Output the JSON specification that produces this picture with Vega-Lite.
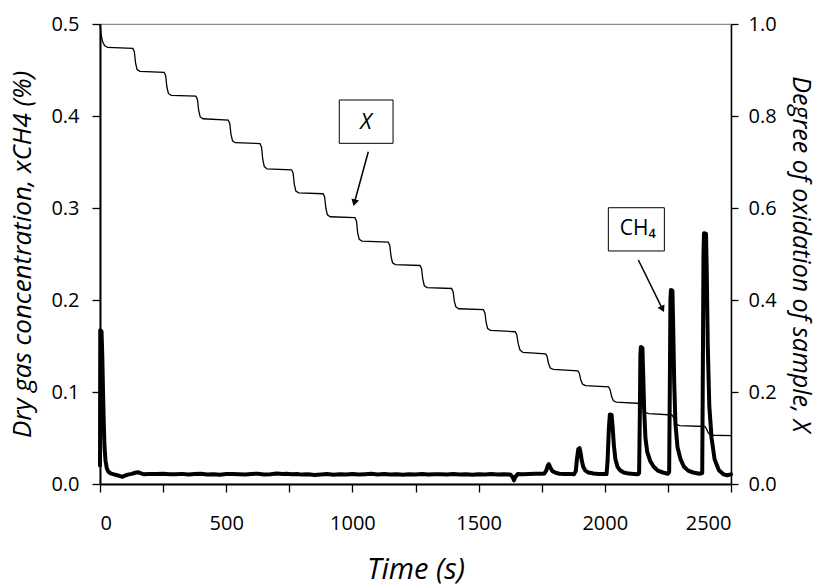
{
  "$schema": "https://vega.github.io/schema/vega-lite/v6.json",
  "width": 631,
  "height": 460,
  "autosize": {"type": "none"},
  "padding": {"left": 100, "top": 24, "right": 90, "bottom": 101},
  "background": "white",
  "config": {
    "font": "Open Sans",
    "view": {"stroke": "#8c8c8c", "strokeWidth": 1.2},
    "axis": {
      "grid": false,
      "domainColor": "black",
      "tickColor": "black",
      "labelColor": "black",
      "titleColor": "black",
      "labelFont": "Open Sans",
      "titleFont": "Open Sans",
      "labelFontSize": 20,
      "titleFontWeight": "normal",
      "titleFontStyle": "italic",
      "tickSize": 8,
      "tickWidth": 1.3
    }
  },
  "layer": [
    {
      "layer": [
        {
          "data": {"values": [
            {"t": 0, "c": 0.02}, {"t": 1, "c": 0.167}, {"t": 6, "c": 0.166}, {"t": 9, "c": 0.14}, {"t": 12, "c": 0.1}, {"t": 15, "c": 0.065}, {"t": 18, "c": 0.04}, {"t": 22, "c": 0.025}, {"t": 27, "c": 0.017}, {"t": 33, "c": 0.0135}, {"t": 42, "c": 0.0115}, {"t": 55, "c": 0.0105}, {"t": 68, "c": 0.0095}, {"t": 80, "c": 0.0085}, {"t": 88, "c": 0.0078}, {"t": 96, "c": 0.0088}, {"t": 110, "c": 0.0102}, {"t": 125, "c": 0.011}, {"t": 140, "c": 0.0122}, {"t": 150, "c": 0.0128}, {"t": 160, "c": 0.0118}, {"t": 175, "c": 0.0105},
            {"t": 200, "c": 0.011}, {"t": 225, "c": 0.0108}, {"t": 250, "c": 0.0112}, {"t": 275, "c": 0.0107}, {"t": 300, "c": 0.0105}, {"t": 325, "c": 0.011}, {"t": 350, "c": 0.0103}, {"t": 375, "c": 0.0108}, {"t": 400, "c": 0.0112}, {"t": 425, "c": 0.0104}, {"t": 450, "c": 0.0106}, {"t": 475, "c": 0.0101}, {"t": 500, "c": 0.0108}, {"t": 525, "c": 0.011}, {"t": 550, "c": 0.0106}, {"t": 575, "c": 0.0103}, {"t": 600, "c": 0.0109}, {"t": 625, "c": 0.0112}, {"t": 650, "c": 0.0104}, {"t": 675, "c": 0.0107}, {"t": 700, "c": 0.0115}, {"t": 725, "c": 0.0108}, {"t": 740, "c": 0.0112}, {"t": 760, "c": 0.0105}, {"t": 780, "c": 0.0109}, {"t": 800, "c": 0.0102}, {"t": 825, "c": 0.0106}, {"t": 850, "c": 0.0099}, {"t": 875, "c": 0.0104}, {"t": 900, "c": 0.0108}, {"t": 925, "c": 0.0101}, {"t": 950, "c": 0.0105}, {"t": 975, "c": 0.0103}, {"t": 1000, "c": 0.0108}, {"t": 1025, "c": 0.0102}, {"t": 1050, "c": 0.0106}, {"t": 1075, "c": 0.0111}, {"t": 1100, "c": 0.0104}, {"t": 1125, "c": 0.0108}, {"t": 1150, "c": 0.0103}, {"t": 1175, "c": 0.0107}, {"t": 1200, "c": 0.0101}, {"t": 1225, "c": 0.0106}, {"t": 1250, "c": 0.0104}, {"t": 1275, "c": 0.0109}, {"t": 1300, "c": 0.0103}, {"t": 1325, "c": 0.0107}, {"t": 1350, "c": 0.0105}, {"t": 1375, "c": 0.0102}, {"t": 1400, "c": 0.0108}, {"t": 1425, "c": 0.0104}, {"t": 1450, "c": 0.0107}, {"t": 1475, "c": 0.0101}, {"t": 1500, "c": 0.0106}, {"t": 1525, "c": 0.0103}, {"t": 1550, "c": 0.0108}, {"t": 1575, "c": 0.0102}, {"t": 1600, "c": 0.0105}, {"t": 1625, "c": 0.0104}, {"t": 1635, "c": 0.0075}, {"t": 1640, "c": 0.004}, {"t": 1645, "c": 0.0075}, {"t": 1655, "c": 0.0108}, {"t": 1675, "c": 0.0106}, {"t": 1700, "c": 0.0109}, {"t": 1725, "c": 0.0111}, {"t": 1750, "c": 0.0112},
            {"t": 1760, "c": 0.0113}, {"t": 1768, "c": 0.0145}, {"t": 1774, "c": 0.02}, {"t": 1778, "c": 0.0215}, {"t": 1784, "c": 0.018}, {"t": 1792, "c": 0.0142}, {"t": 1805, "c": 0.0122}, {"t": 1820, "c": 0.0112}, {"t": 1840, "c": 0.0108}, {"t": 1860, "c": 0.011}, {"t": 1878, "c": 0.0106},
            {"t": 1885, "c": 0.014}, {"t": 1890, "c": 0.028}, {"t": 1895, "c": 0.038}, {"t": 1900, "c": 0.039}, {"t": 1904, "c": 0.034}, {"t": 1909, "c": 0.025}, {"t": 1915, "c": 0.0185}, {"t": 1923, "c": 0.0145}, {"t": 1935, "c": 0.0125}, {"t": 1955, "c": 0.0114}, {"t": 1975, "c": 0.0109}, {"t": 1995, "c": 0.011}, {"t": 2007, "c": 0.0108},
            {"t": 2011, "c": 0.025}, {"t": 2016, "c": 0.06}, {"t": 2020, "c": 0.0755}, {"t": 2027, "c": 0.075}, {"t": 2031, "c": 0.062}, {"t": 2036, "c": 0.042}, {"t": 2042, "c": 0.027}, {"t": 2050, "c": 0.019}, {"t": 2060, "c": 0.015}, {"t": 2075, "c": 0.0125}, {"t": 2095, "c": 0.0113}, {"t": 2115, "c": 0.011}, {"t": 2132, "c": 0.0107},
            {"t": 2136, "c": 0.012}, {"t": 2139, "c": 0.08}, {"t": 2141, "c": 0.14}, {"t": 2143, "c": 0.149}, {"t": 2149, "c": 0.148}, {"t": 2152, "c": 0.12}, {"t": 2156, "c": 0.08}, {"t": 2161, "c": 0.05}, {"t": 2168, "c": 0.035}, {"t": 2180, "c": 0.025}, {"t": 2193, "c": 0.019}, {"t": 2210, "c": 0.0145}, {"t": 2230, "c": 0.0125}, {"t": 2250, "c": 0.0112},
            {"t": 2255, "c": 0.013}, {"t": 2258, "c": 0.12}, {"t": 2260, "c": 0.2}, {"t": 2262, "c": 0.211}, {"t": 2268, "c": 0.21}, {"t": 2271, "c": 0.17}, {"t": 2275, "c": 0.11}, {"t": 2280, "c": 0.065}, {"t": 2288, "c": 0.04}, {"t": 2300, "c": 0.027}, {"t": 2313, "c": 0.019}, {"t": 2330, "c": 0.0145}, {"t": 2350, "c": 0.0125}, {"t": 2375, "c": 0.0112},
            {"t": 2386, "c": 0.012}, {"t": 2389, "c": 0.15}, {"t": 2391, "c": 0.25}, {"t": 2393, "c": 0.2725}, {"t": 2401, "c": 0.272}, {"t": 2404, "c": 0.23}, {"t": 2408, "c": 0.15}, {"t": 2414, "c": 0.085}, {"t": 2423, "c": 0.05}, {"t": 2435, "c": 0.027}, {"t": 2452, "c": 0.015}, {"t": 2470, "c": 0.0105}, {"t": 2485, "c": 0.0095}, {"t": 2500, "c": 0.0105}
          ]},
          "mark": {"type": "line", "color": "black", "strokeWidth": 4, "strokeJoin": "round", "strokeCap": "round"},
          "encoding": {
            "x": {"field": "t", "type": "quantitative", "scale": {"domain": [0, 2500], "nice": false},
              "axis": {"values": [0, 250, 500, 750, 1000, 1250, 1500, 1750, 2000, 2250, 2500], "format": "d", "labelExpr": "datum.value % 500 === 0 ? datum.label : ''", "title": "Time (s)", "titleFontSize": 29, "labelPadding": 21, "titlePadding": 22, "domainWidth": 2}},
            "y": {"field": "c", "type": "quantitative", "scale": {"domain": [0, 0.5], "nice": false},
              "axis": {"values": [0, 0.1, 0.2, 0.3, 0.4, 0.5], "format": ".1f", "title": "Dry gas concentration, xCH4 (%)", "titleFontSize": 26, "labelPadding": 13, "titlePadding": 15, "domainWidth": 2}}
          }
        },
        {
          "data": {"values": [
            {"t": 948, "t2": 1161, "c": 0.3703, "c2": 0.4174},
            {"t": 2014, "t2": 2236, "c": 0.2533, "c2": 0.3003}
          ]},
          "mark": {"type": "rect", "fill": "white", "stroke": "black", "strokeWidth": 1},
          "encoding": {
            "x": {"field": "t", "type": "quantitative", "scale": {"domain": [0, 2500], "nice": false},
              "axis": {"values": [0, 250, 500, 750, 1000, 1250, 1500, 1750, 2000, 2250, 2500], "format": "d", "labelExpr": "datum.value % 500 === 0 ? datum.label : ''", "title": "Time (s)", "titleFontSize": 29, "labelPadding": 21, "titlePadding": 22, "domainWidth": 2}},
            "x2": {"field": "t2"},
            "y": {"field": "c", "type": "quantitative", "scale": {"domain": [0, 0.5], "nice": false},
              "axis": {"values": [0, 0.1, 0.2, 0.3, 0.4, 0.5], "format": ".1f", "title": "Dry gas concentration, xCH4 (%)", "titleFontSize": 26, "labelPadding": 13, "titlePadding": 15, "domainWidth": 2}},
            "y2": {"field": "c2"}
          }
        },
        {
          "data": {"values": [
            {"t": 1063, "c": 0.3612, "t2": 1007.8, "c2": 0.3057},
            {"t": 2133, "c": 0.2435, "t2": 2228.6, "c2": 0.1901}
          ]},
          "mark": {"type": "rule", "color": "black", "strokeWidth": 1.5},
          "encoding": {
            "x": {"field": "t", "type": "quantitative", "scale": {"domain": [0, 2500], "nice": false},
              "axis": {"values": [0, 250, 500, 750, 1000, 1250, 1500, 1750, 2000, 2250, 2500], "format": "d", "labelExpr": "datum.value % 500 === 0 ? datum.label : ''", "title": "Time (s)", "titleFontSize": 29, "labelPadding": 21, "titlePadding": 22, "domainWidth": 2}},
            "x2": {"field": "t2"},
            "y": {"field": "c", "type": "quantitative", "scale": {"domain": [0, 0.5], "nice": false},
              "axis": {"values": [0, 0.1, 0.2, 0.3, 0.4, 0.5], "format": ".1f", "title": "Dry gas concentration, xCH4 (%)", "titleFontSize": 26, "labelPadding": 13, "titlePadding": 15, "domainWidth": 2}},
            "y2": {"field": "c2"}
          }
        },
        {
          "data": {"values": [{"t": 1007.8, "c": 0.3057}]},
          "mark": {"type": "point", "shape": "triangle-up", "filled": true, "color": "black", "opacity": 1, "size": 60, "angle": 195},
          "encoding": {
            "x": {"field": "t", "type": "quantitative", "scale": {"domain": [0, 2500], "nice": false},
              "axis": {"values": [0, 250, 500, 750, 1000, 1250, 1500, 1750, 2000, 2250, 2500], "format": "d", "labelExpr": "datum.value % 500 === 0 ? datum.label : ''", "title": "Time (s)", "titleFontSize": 29, "labelPadding": 21, "titlePadding": 22, "domainWidth": 2}},
            "y": {"field": "c", "type": "quantitative", "scale": {"domain": [0, 0.5], "nice": false},
              "axis": {"values": [0, 0.1, 0.2, 0.3, 0.4, 0.5], "format": ".1f", "title": "Dry gas concentration, xCH4 (%)", "titleFontSize": 26, "labelPadding": 13, "titlePadding": 15, "domainWidth": 2}}
          }
        },
        {
          "data": {"values": [{"t": 2228.6, "c": 0.1901}]},
          "mark": {"type": "point", "shape": "triangle-up", "filled": true, "color": "black", "opacity": 1, "size": 60, "angle": 154},
          "encoding": {
            "x": {"field": "t", "type": "quantitative", "scale": {"domain": [0, 2500], "nice": false},
              "axis": {"values": [0, 250, 500, 750, 1000, 1250, 1500, 1750, 2000, 2250, 2500], "format": "d", "labelExpr": "datum.value % 500 === 0 ? datum.label : ''", "title": "Time (s)", "titleFontSize": 29, "labelPadding": 21, "titlePadding": 22, "domainWidth": 2}},
            "y": {"field": "c", "type": "quantitative", "scale": {"domain": [0, 0.5], "nice": false},
              "axis": {"values": [0, 0.1, 0.2, 0.3, 0.4, 0.5], "format": ".1f", "title": "Dry gas concentration, xCH4 (%)", "titleFontSize": 26, "labelPadding": 13, "titlePadding": 15, "domainWidth": 2}}
          }
        },
        {
          "data": {"values": [{"t": 1054, "c": 0.3938, "label": "X"}]},
          "mark": {"type": "text", "font": "Open Sans", "fontStyle": "italic", "fontSize": 22, "color": "black", "align": "center", "baseline": "middle"},
          "encoding": {
            "x": {"field": "t", "type": "quantitative", "scale": {"domain": [0, 2500], "nice": false},
              "axis": {"values": [0, 250, 500, 750, 1000, 1250, 1500, 1750, 2000, 2250, 2500], "format": "d", "labelExpr": "datum.value % 500 === 0 ? datum.label : ''", "title": "Time (s)", "titleFontSize": 29, "labelPadding": 21, "titlePadding": 22, "domainWidth": 2}},
            "y": {"field": "c", "type": "quantitative", "scale": {"domain": [0, 0.5], "nice": false},
              "axis": {"values": [0, 0.1, 0.2, 0.3, 0.4, 0.5], "format": ".1f", "title": "Dry gas concentration, xCH4 (%)", "titleFontSize": 26, "labelPadding": 13, "titlePadding": 15, "domainWidth": 2}},
            "text": {"field": "label"}
          }
        },
        {
          "data": {"values": [{"t": 2131, "c": 0.2768, "label": "CH₄"}]},
          "mark": {"type": "text", "font": "Open Sans", "fontSize": 21, "color": "black", "align": "center", "baseline": "middle"},
          "encoding": {
            "x": {"field": "t", "type": "quantitative", "scale": {"domain": [0, 2500], "nice": false},
              "axis": {"values": [0, 250, 500, 750, 1000, 1250, 1500, 1750, 2000, 2250, 2500], "format": "d", "labelExpr": "datum.value % 500 === 0 ? datum.label : ''", "title": "Time (s)", "titleFontSize": 29, "labelPadding": 21, "titlePadding": 22, "domainWidth": 2}},
            "y": {"field": "c", "type": "quantitative", "scale": {"domain": [0, 0.5], "nice": false},
              "axis": {"values": [0, 0.1, 0.2, 0.3, 0.4, 0.5], "format": ".1f", "title": "Dry gas concentration, xCH4 (%)", "titleFontSize": 26, "labelPadding": 13, "titlePadding": 15, "domainWidth": 2}},
            "text": {"field": "label"}
          }
        }
      ]
    },
    {
      "data": {"values": [
        {"t": 0, "X": 1.0}, {"t": 2, "X": 0.99}, {"t": 5, "X": 0.975}, {"t": 10, "X": 0.962}, {"t": 18, "X": 0.953}, {"t": 30, "X": 0.949}, {"t": 130, "X": 0.947},
        {"t": 136, "X": 0.94}, {"t": 141, "X": 0.915}, {"t": 147, "X": 0.901}, {"t": 158, "X": 0.897}, {"t": 254, "X": 0.895},
        {"t": 260, "X": 0.888}, {"t": 265, "X": 0.863}, {"t": 271, "X": 0.849}, {"t": 282, "X": 0.845}, {"t": 380, "X": 0.843},
        {"t": 386, "X": 0.836}, {"t": 391, "X": 0.812}, {"t": 397, "X": 0.798}, {"t": 408, "X": 0.794}, {"t": 508, "X": 0.791},
        {"t": 514, "X": 0.784}, {"t": 519, "X": 0.76}, {"t": 525, "X": 0.746}, {"t": 536, "X": 0.742}, {"t": 634, "X": 0.74},
        {"t": 640, "X": 0.732}, {"t": 645, "X": 0.705}, {"t": 651, "X": 0.69}, {"t": 662, "X": 0.685}, {"t": 759, "X": 0.683},
        {"t": 765, "X": 0.676}, {"t": 770, "X": 0.651}, {"t": 776, "X": 0.637}, {"t": 787, "X": 0.633}, {"t": 884, "X": 0.631},
        {"t": 890, "X": 0.624}, {"t": 895, "X": 0.599}, {"t": 901, "X": 0.585}, {"t": 912, "X": 0.581}, {"t": 1010, "X": 0.579},
        {"t": 1016, "X": 0.572}, {"t": 1021, "X": 0.546}, {"t": 1027, "X": 0.532}, {"t": 1038, "X": 0.528}, {"t": 1142, "X": 0.526},
        {"t": 1148, "X": 0.519}, {"t": 1153, "X": 0.495}, {"t": 1159, "X": 0.481}, {"t": 1170, "X": 0.477}, {"t": 1268, "X": 0.475},
        {"t": 1274, "X": 0.468}, {"t": 1279, "X": 0.445}, {"t": 1285, "X": 0.431}, {"t": 1296, "X": 0.427}, {"t": 1393, "X": 0.425},
        {"t": 1399, "X": 0.418}, {"t": 1404, "X": 0.397}, {"t": 1410, "X": 0.385}, {"t": 1421, "X": 0.381}, {"t": 1519, "X": 0.379},
        {"t": 1525, "X": 0.372}, {"t": 1530, "X": 0.351}, {"t": 1536, "X": 0.338}, {"t": 1547, "X": 0.334}, {"t": 1645, "X": 0.331},
        {"t": 1651, "X": 0.325}, {"t": 1657, "X": 0.305}, {"t": 1664, "X": 0.291}, {"t": 1676, "X": 0.286}, {"t": 1765, "X": 0.283},
        {"t": 1771, "X": 0.278}, {"t": 1777, "X": 0.262}, {"t": 1784, "X": 0.252}, {"t": 1796, "X": 0.249}, {"t": 1893, "X": 0.246},
        {"t": 1899, "X": 0.241}, {"t": 1905, "X": 0.226}, {"t": 1912, "X": 0.217}, {"t": 1924, "X": 0.214}, {"t": 2015, "X": 0.211},
        {"t": 2021, "X": 0.205}, {"t": 2027, "X": 0.19}, {"t": 2034, "X": 0.181}, {"t": 2046, "X": 0.178}, {"t": 2143, "X": 0.175},
        {"t": 2149, "X": 0.17}, {"t": 2155, "X": 0.161}, {"t": 2162, "X": 0.155}, {"t": 2174, "X": 0.153}, {"t": 2266, "X": 0.15},
        {"t": 2272, "X": 0.145}, {"t": 2278, "X": 0.136}, {"t": 2285, "X": 0.129}, {"t": 2297, "X": 0.127}, {"t": 2396, "X": 0.125},
        {"t": 2402, "X": 0.121}, {"t": 2408, "X": 0.113}, {"t": 2415, "X": 0.108}, {"t": 2427, "X": 0.106}, {"t": 2500, "X": 0.105}
      ]},
      "mark": {"type": "line", "color": "black", "strokeWidth": 1.3},
      "encoding": {
        "x": {"field": "t", "type": "quantitative", "scale": {"domain": [0, 2500], "nice": false},
          "axis": {"values": [0, 250, 500, 750, 1000, 1250, 1500, 1750, 2000, 2250, 2500], "format": "d", "labelExpr": "datum.value % 500 === 0 ? datum.label : ''", "title": "Time (s)", "titleFontSize": 29, "labelPadding": 21, "titlePadding": 22, "domainWidth": 2}},
        "y": {"field": "X", "type": "quantitative", "scale": {"domain": [0, 1], "nice": false},
          "axis": {"orient": "right", "values": [0, 0.2, 0.4, 0.6, 0.8, 1.0], "format": ".1f", "title": "Degree of oxidation of sample, X", "titleFontSize": 25, "tickSize": 7, "labelPadding": 10, "titlePadding": 11, "domainWidth": 1.5}}
      }
    }
  ],
  "resolve": {"scale": {"y": "independent"}}
}
